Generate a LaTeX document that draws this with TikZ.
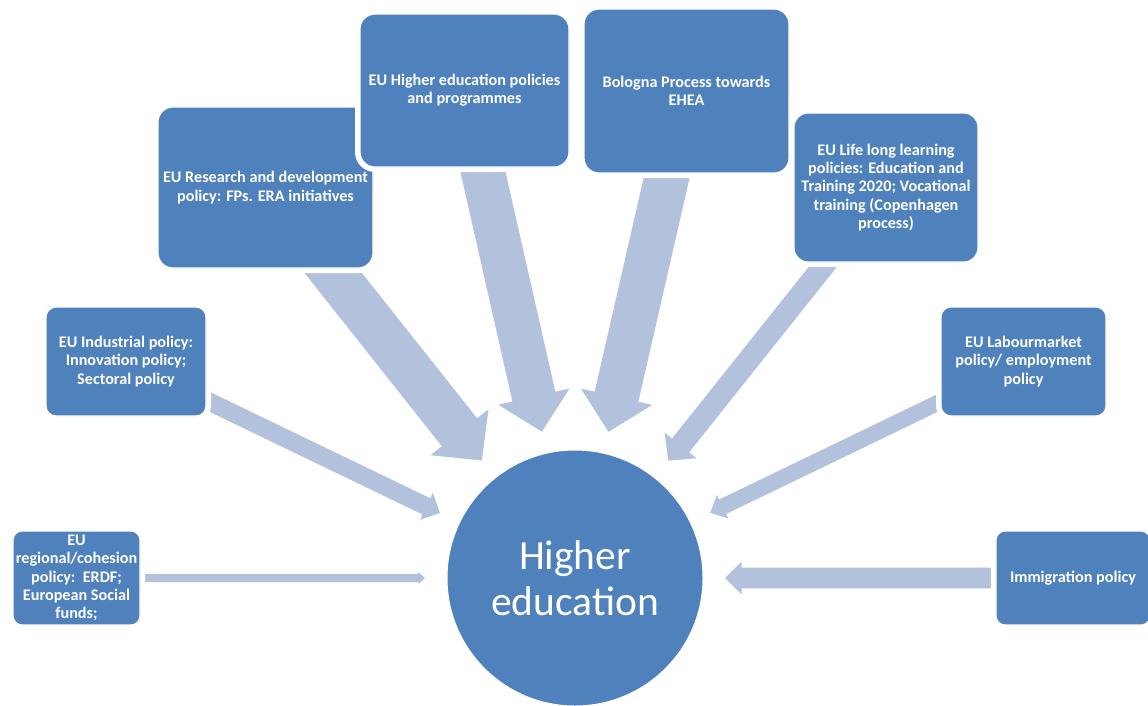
\documentclass[tikz,border=0pt]{standalone}
\usepackage{fontspec}
\setmainfont{Carlito}
\usetikzlibrary{calc}

\definecolor{boxblue}{HTML}{4F81BD}
\definecolor{arrowblue}{HTML}{B2C1DC}

\pgfdeclarelayer{canvas}
\pgfdeclarelayer{arrows}
\pgfsetlayers{canvas,arrows,main}

% Block arrow from the centre of node #1 towards the centre of node #2,
% stopping 150pt short of #2. #3 half shaft width, #4 half head width,
% #5 head length.
\newcommand\radialarrow[5]{%
  \coordinate (ra-t) at ($(#2.center)!150pt!(#1.center)$);
  \coordinate (ra-h) at ($(ra-t)!#5!(#1.center)$);
  \fill[arrowblue]
    ($(#1.center)!#3!90:(#2.center)$) --
    ($(ra-h)!#3!90:(#2.center)$) --
    ($(ra-h)!#4!90:(#2.center)$) --
    (ra-t) --
    ($(ra-h)!#4!-90:(#2.center)$) --
    ($(ra-h)!#3!-90:(#2.center)$) --
    ($(#1.center)!#3!-90:(#2.center)$) -- cycle;
}

\tikzset{
  policy/.style={
    rectangle, fill=boxblue, draw=white, line width=1.2pt,
    preaction={draw=white, line width=10pt},
    inner sep=0pt, align=center, text=white,
    font=\bfseries\fontsize{16.2}{18.3}\selectfont
  },
  hub/.style={
    circle, fill=boxblue, draw=white, line width=1pt,
    minimum size=256pt, inner sep=0pt, align=center, text=white,
    font=\fontsize{41.5}{45.5}\selectfont
  }
}

\begin{document}
\begin{tikzpicture}[x=1pt,y=-1pt]
\begin{pgfonlayer}{canvas}
  \fill[white] (0,0) rectangle (1148,705);
\end{pgfonlayer}
\useasboundingbox (0,0) rectangle (1148,705);

% central circle
\node[hub] (he) at (575,578) {Higher\\education};

% policy boxes (later boxes sit in front of earlier ones)
\node[policy, minimum width=215pt, minimum height=161pt, rounded corners=15pt]
  (rd) at (265.5,187.5) {EU Research and development\\policy: FPs. ERA initiatives};
\node[policy, minimum width=209pt, minimum height=153pt, rounded corners=15pt]
  (hep) at (464.5,90.5) {EU Higher education policies\\and programmes};
\node[policy, minimum width=205pt, minimum height=164pt, rounded corners=15pt]
  (bol) at (686.5,91) {Bologna Process towards\\EHEA};
\node[policy, minimum width=184pt, minimum height=149pt, rounded corners=14pt]
  (lll) at (886,187.5) {EU Life long learning\\policies: Education and\\Training 2020; Vocational\\training (Copenhagen\\process)};
\node[policy, minimum width=160pt, minimum height=109pt, rounded corners=10pt]
  (ind) at (126,361.5) {EU Industrial policy:\\Innovation policy;\\Sectoral policy};
\node[policy, minimum width=165pt, minimum height=109pt, rounded corners=10pt]
  (lab) at (1023.5,361.5) {EU Labourmarket\\policy/ employment\\policy};
\node[policy, minimum width=127pt, minimum height=94pt, rounded corners=9pt]
  (reg) at (76.5,578) {EU\\regional/cohesion\\policy:\ \ ERDF;\\European Social\\funds;};
\node[policy, minimum width=154pt, minimum height=94pt, rounded corners=9pt]
  (imm) at (1073,578) {Immigration policy};

% arrows pointing into the circle
\begin{pgfonlayer}{arrows}
  \radialarrow{rd}{he}{22.5pt}{37pt}{36pt}
  \radialarrow{hep}{he}{22pt}{36.5pt}{36pt}
  \radialarrow{bol}{he}{22.4pt}{36.6pt}{36pt}
  \radialarrow{lll}{he}{11pt}{20.5pt}{19.5pt}
  \radialarrow{ind}{he}{9pt}{15pt}{15pt}
  \radialarrow{lab}{he}{8pt}{13pt}{14pt}
  \radialarrow{imm}{he}{10.3pt}{16.2pt}{16.5pt}
  \radialarrow{reg}{he}{4pt}{6pt}{6.7pt}
\end{pgfonlayer}
\end{tikzpicture}
\end{document}
